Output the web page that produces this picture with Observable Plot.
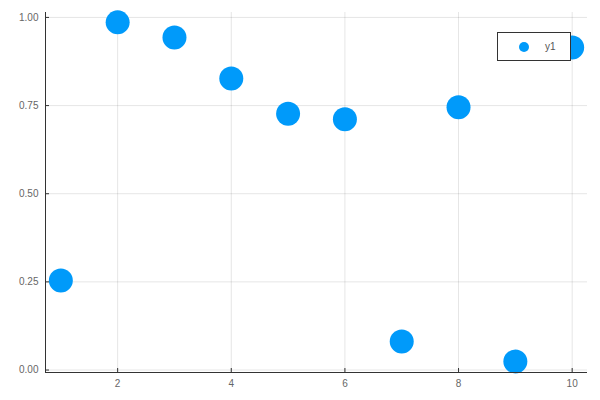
<!DOCTYPE html>
<html><head><meta charset="utf-8">
<script src="https://cdn.jsdelivr.net/npm/d3@7"></script>
<script src="https://cdn.jsdelivr.net/npm/@observablehq/plot@0.6"></script>
<style>
html,body{margin:0;padding:0;background:#fff;}
#wrap{position:relative;width:600px;height:400px;}
#legend{position:absolute;left:497px;top:32px;width:74px;height:29px;border:1px solid #333;background:#fff;box-sizing:border-box;font-family:"Liberation Sans",sans-serif;font-size:10px;color:#555;}
#legend .dot{position:absolute;left:21px;top:9px;width:10px;height:10px;border-radius:50%;background:#009AFA;}
#legend .lbl{position:absolute;left:47px;top:8px;}
</style></head>
<body><div id="wrap"><div id="legend"><div class="dot"></div><div class="lbl">y1</div></div></div>
<script>
const xs = [1, 2, 3, 4, 5, 6, 7, 8, 9, 10];
const ys = [0.254, 0.986, 0.943, 0.827, 0.727, 0.711, 0.081, 0.745, 0.024, 0.915];
const xTicks = [2, 4, 6, 8, 10];
const yTicks = [0, 0.25, 0.5, 0.75, 1.0];
const seriesName = "y1";

const data = xs.map((x, i) => ({x, y: ys[i]}));
const xDomain = [0.73, 10.27];
const yDomain = [-0.007, 1.014];

const chart = Plot.plot({
  width: 600, height: 400,
  marginLeft: 45, marginRight: 13, marginTop: 12, marginBottom: 28,
  style: {fontFamily: "Liberation Sans, sans-serif", fontSize: "10px", color: "#555", background: "#fff"},
  x: {domain: xDomain, ticks: xTicks},
  y: {domain: yDomain, ticks: yTicks},
  marks: [
    Plot.gridX(xTicks, {stroke: "#000", strokeOpacity: 0.1}),
    Plot.gridY(yTicks, {stroke: "#000", strokeOpacity: 0.1}),
    Plot.dot(data, {x: "x", y: "y", r: 12, fill: "#009AFA", stroke: null}),
    Plot.ruleX([xDomain[0]], {stroke: "#333", strokeWidth: 1}),
    Plot.ruleY([yDomain[0]], {stroke: "#333", strokeWidth: 1}),
    Plot.axisX(xTicks, {tickSize: -4, tickPadding: 11, fontSize: 10, stroke: "#333", fill: "#666", label: null}),
    Plot.axisY(yTicks, {tickSize: -4, tickPadding: 11, fontSize: 10, tickFormat: d3.format(".2f"), stroke: "#333", fill: "#666", label: null})
  ]
});
document.getElementById("wrap").prepend(chart);
</script></body></html>
